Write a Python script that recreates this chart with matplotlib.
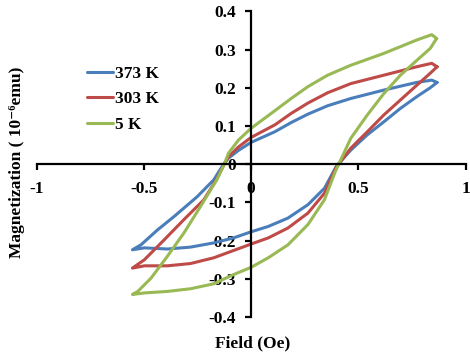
import matplotlib
matplotlib.use("Agg")
import matplotlib.pyplot as plt

plt.rcParams["font.family"] = ["Liberation Serif", "DejaVu Serif"]
plt.rcParams["font.weight"] = "bold"

labels = ["373 K", "303 K", "5 K"]
colors = ["#4A7EBB", "#BE4B48", "#98B954"]
fontSize = 12.5

# each loop: descending branch from +max to -max, then ascending branch back
field373 = [0.867, 0.842, 0.772, 0.619, 0.465, 0.357, 0.265, 0.187, 0.111, 0.0,
            -0.059, -0.105, -0.128, -0.174, -0.251, -0.359, -0.436, -0.513, -0.553,
            -0.497, -0.39, -0.282, -0.174, -0.082, 0.0, 0.08, 0.172, 0.265, 0.342,
            0.398, 0.465, 0.542, 0.619, 0.696, 0.773, 0.835, 0.867]
mag373 = [0.214, 0.22, 0.214, 0.194, 0.172, 0.153, 0.131, 0.109, 0.085, 0.057,
          0.036, 0.016, 0.0, -0.041, -0.085, -0.137, -0.172, -0.211, -0.224,
          -0.219, -0.222, -0.217, -0.206, -0.193, -0.177, -0.163, -0.141, -0.106, -0.063,
          -0.005, 0.037, 0.077, 0.111, 0.146, 0.177, 0.2, 0.214]

field303 = [0.867, 0.842, 0.772, 0.619, 0.465, 0.357, 0.265, 0.187, 0.111, 0.0,
            -0.059, -0.105, -0.125, -0.162, -0.22, -0.313, -0.405, -0.497, -0.553,
            -0.497, -0.39, -0.282, -0.174, -0.082, 0.0, 0.08, 0.172, 0.265, 0.342,
            0.395, 0.465, 0.542, 0.619, 0.696, 0.773, 0.835, 0.867]
mag303 = [0.255, 0.264, 0.255, 0.233, 0.211, 0.187, 0.16, 0.133, 0.103, 0.07,
          0.045, 0.02, 0.0, -0.041, -0.093, -0.145, -0.198, -0.25, -0.272,
          -0.266, -0.266, -0.26, -0.245, -0.226, -0.209, -0.193, -0.167, -0.128, -0.076,
          -0.01, 0.042, 0.085, 0.129, 0.168, 0.207, 0.238, 0.255]

field5 = [0.865, 0.842, 0.772, 0.619, 0.465, 0.357, 0.265, 0.187, 0.111, 0.0,
          -0.059, -0.105, -0.125, -0.16, -0.236, -0.313, -0.39, -0.466, -0.528, -0.553,
          -0.497, -0.39, -0.282, -0.174, -0.082, 0.0, 0.08, 0.172, 0.265, 0.342,
          0.392, 0.465, 0.542, 0.619, 0.696, 0.773, 0.835, 0.865]
mag5 = [0.329, 0.339, 0.325, 0.29, 0.259, 0.233, 0.203, 0.172, 0.14, 0.094,
        0.063, 0.029, 0.0, -0.041, -0.111, -0.18, -0.241, -0.298, -0.333, -0.341,
        -0.337, -0.333, -0.326, -0.313, -0.289, -0.27, -0.245, -0.211, -0.158, -0.093,
        -0.02, 0.068, 0.129, 0.185, 0.233, 0.272, 0.303, 0.329]

seriesX = [field373, field303, field5]
seriesY = [mag373, mag303, mag5]

fig = plt.figure(figsize=(4.7, 3.55), dpi=100)
ax = fig.add_axes([0.0777, 0.107, 0.913, 0.861])

for xs, ys, lab, col in zip(seriesX, seriesY, labels, colors):
    ax.plot(xs, ys, color=col, lw=2.2, label=lab,
            solid_joinstyle="round", solid_capstyle="round")

ax.set_xlim(-1, 1)
ax.set_ylim(-0.4, 0.4)
ax.set_xticks([-1, -0.5, 0, 0.5, 1])
ax.set_xticklabels(["-1", "-0.5", "0", "0.5", "1"])
ax.set_yticks([-0.4, -0.3, -0.2, -0.1, 0, 0.1, 0.2, 0.3, 0.4])
ax.set_yticklabels(["-0.4", "-0.3", "-0.2", "-0.1", "0", "0.1", "0.2", "0.3", "0.4"])

ax.spines["left"].set_position(("data", 0))
ax.spines["bottom"].set_position(("data", 0))
ax.spines["top"].set_visible(False)
ax.spines["right"].set_visible(False)
for s in ["left", "bottom"]:
    ax.spines[s].set_linewidth(1.6)
ax.tick_params(axis="both", direction="out", length=4, width=1.6, labelsize=fontSize)
ax.tick_params(axis="x", pad=8)
ax.tick_params(axis="y", pad=7)
for t in ax.get_xticklabels() + ax.get_yticklabels():
    t.set_fontweight("bold")

fig.text(0.036, 0.542, "Magnetization ( 10\u207b\u2076emu)", rotation=90,
         ha="center", va="center", fontsize=fontSize, fontweight="bold")
fig.text(0.538, 0.034, "Field (Oe)", ha="center", va="center",
         fontsize=fontSize, fontweight="bold")

ax.legend(loc="upper left", bbox_to_anchor=(0.118, 0.823), frameon=False,
          borderaxespad=0, borderpad=0,
          handlelength=1.5, handletextpad=0.12, labelspacing=0.55,
          prop={"size": fontSize, "weight": "bold"})

fig.savefig("out.png", dpi=100)
